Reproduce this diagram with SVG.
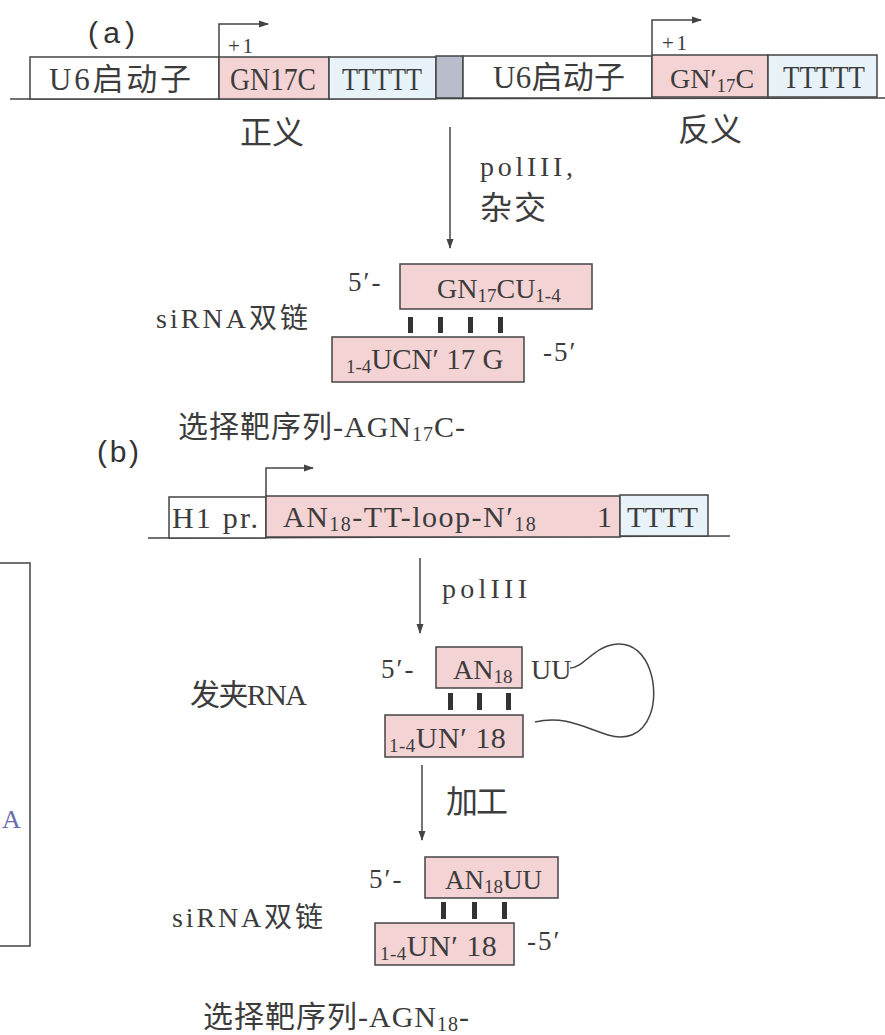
<svg xmlns="http://www.w3.org/2000/svg" width="885" height="1035" viewBox="0 0 885 1035">
<style>
.bx{stroke:#444;stroke-width:1.5}
.pk{fill:#f4d3d5}
.bl{fill:#e7f2f9}
.gy{fill:#b8bccb}
.wh{fill:#fff}
.ln{stroke:#444;stroke-width:1.5;fill:none}
.t{font-family:"Liberation Serif","Noto Sans CJK SC",serif;fill:#3c3c3c}
.s{font-family:"Liberation Sans","Noto Sans CJK SC",sans-serif;fill:#333}
.bar{fill:#333}
.p{font-size:27px;letter-spacing:2px}
</style>
<defs>
<marker id="ah" viewBox="0 0 10 10" refX="9" refY="5" markerWidth="10" markerHeight="10" markerUnits="userSpaceOnUse" orient="auto">
<path d="M0,1.5 L10,5 L0,8.5 Z" fill="#444"/>
</marker>
</defs>
<rect width="885" height="1035" fill="#fff"/>

<g id="label-a"><text class="s" x="88" y="43" font-size="30" textLength="47">(a)</text></g>

<g id="construct-a">
<line class="ln" x1="10" y1="99" x2="885" y2="98"/>
<rect class="bx wh" x="30" y="57" width="189" height="42"/>
<rect class="bx pk" x="219" y="57" width="110" height="42"/>
<rect class="bx bl" x="329" y="57" width="107" height="42"/>
<rect class="bx gy" x="436" y="56" width="27" height="42"/>
<rect class="bx wh" x="463" y="56" width="189" height="42"/>
<rect class="bx pk" x="652" y="55" width="116" height="42"/>
<rect class="bx bl" x="768" y="55" width="109" height="42"/>
<text class="t" x="49" y="90" font-size="31" textLength="142">U6启动子</text>
<text class="t" x="230" y="90" font-size="31" textLength="86" lengthAdjust="spacingAndGlyphs">GN17C</text>
<text class="t" x="342" y="90" font-size="31" textLength="80" lengthAdjust="spacingAndGlyphs">TTTTT</text>
<text class="t" x="493" y="88" font-size="31" textLength="132">U6启动子</text>
<text class="t" x="670" y="88" font-size="28">GN′<tspan font-size="19" dy="4">17</tspan><tspan dy="-4">C</tspan></text>
<text class="t" x="783" y="88" font-size="31" textLength="82" lengthAdjust="spacingAndGlyphs">TTTTT</text>
<text class="t" x="228" y="53" font-size="21" textLength="25">+1</text>
<text class="t" x="662" y="50" font-size="21" textLength="25">+1</text>
<text class="t" x="240" y="144" font-size="32" textLength="64">正义</text>
<text class="t" x="678" y="141" font-size="32" textLength="64">反义</text>
</g>

<g id="sirna-a">
<text class="t p" x="348" y="291">5′-</text>
<rect class="bx pk" x="400" y="264" width="192" height="45"/>
<text class="t" x="437" y="298" font-size="28">GN<tspan font-size="19" dy="4">17</tspan><tspan dy="-4">CU</tspan><tspan font-size="19" dy="4">1-4</tspan></text>
<rect class="bar" x="408" y="317" width="5" height="16"/>
<rect class="bar" x="438" y="317" width="5" height="16"/>
<rect class="bar" x="468" y="317" width="5" height="16"/>
<rect class="bar" x="498" y="317" width="5" height="16"/>
<rect class="bx pk" x="332" y="337" width="192" height="45"/>
<text class="t" x="346" y="369" font-size="29"><tspan font-size="19" dy="4">1-4</tspan><tspan dy="-4">UCN′ 17 G</tspan></text>
<text class="t p" x="543" y="361">-5′</text>
<text class="t" x="156" y="328" font-size="28" textLength="152">siRNA双链</text>
<text class="t" x="178" y="437" font-size="30" letter-spacing="1">选择靶序列-AGN<tspan font-size="20" dy="4">17</tspan><tspan dy="-4">C-</tspan></text>
</g>

<g id="label-b"><text class="s" x="97" y="462" font-size="30" textLength="42">(b)</text></g>

<g id="construct-b">
<line class="ln" x1="148" y1="538" x2="730" y2="536"/>
<rect class="bx wh" x="169" y="497" width="97" height="41"/>
<rect class="bx pk" x="266" y="496" width="354" height="41"/>
<rect class="bx bl" x="620" y="495" width="88" height="41"/>
<text class="t" x="172" y="528" font-size="30" textLength="86">H1 pr.</text>
<text class="t" x="283" y="527" font-size="30" letter-spacing="1.5">AN<tspan font-size="20" dy="4">18</tspan><tspan dy="-4">-TT-loop-N′</tspan><tspan font-size="20" dy="4">18</tspan></text>
<text class="t" x="597" y="527" font-size="30">1</text>
<text class="t" x="627" y="527" font-size="30" textLength="71" lengthAdjust="spacingAndGlyphs">TTTT</text>
</g>

<g id="hairpin">
<text class="t p" x="381" y="678">5′-</text>
<rect class="bx pk" x="436" y="647" width="86" height="41"/>
<text class="t" x="453" y="679" font-size="28">AN<tspan font-size="19" dy="4">18</tspan></text>
<text class="t" x="531" y="679" font-size="28">UU</text>
<path class="ln" d="M570,668 C584,668 594,645 618,644 C650,643 660,690 650,715 C642,736 625,740 608,735 C585,728 565,715 535,722" stroke-width="2"/>
<rect class="bar" x="448" y="693" width="5" height="17"/>
<rect class="bar" x="477" y="693" width="5" height="17"/>
<rect class="bar" x="506" y="693" width="5" height="17"/>
<rect class="bx pk" x="385" y="715" width="138" height="42"/>
<text class="t" x="389" y="748" font-size="30" letter-spacing="0.5"><tspan font-size="19" dy="4">1-4</tspan><tspan dy="-4">UN′ 18</tspan></text>
<text class="t" x="190" y="705" font-size="30" textLength="117">发夹RNA</text>
</g>

<g id="sirna-b">
<text class="t p" x="369" y="888">5′-</text>
<rect class="bx pk" x="425" y="857" width="133" height="41"/>
<text class="t" x="445" y="889" font-size="27">AN<tspan font-size="19" dy="4">18</tspan><tspan dy="-4">UU</tspan></text>
<rect class="bar" x="441" y="902" width="5" height="17"/>
<rect class="bar" x="472" y="902" width="5" height="17"/>
<rect class="bar" x="502" y="902" width="5" height="17"/>
<rect class="bx pk" x="375" y="923" width="139" height="42"/>
<text class="t" x="380" y="956" font-size="30" letter-spacing="0.5"><tspan font-size="19" dy="4">1-4</tspan><tspan dy="-4">UN′ 18</tspan></text>
<text class="t p" x="527" y="950">-5′</text>
<text class="t" x="172" y="927" font-size="28" textLength="151">siRNA双链</text>
<text class="t" x="203" y="1027" font-size="30" letter-spacing="1">选择靶序列-AGN<tspan font-size="20" dy="4">18</tspan><tspan dy="-4">-</tspan></text>
</g>

<g id="side-box">
<path class="ln" d="M-2,563 L30,563 L30,946 L-2,946"/>
<text x="2" y="828" font-size="26" font-family="Liberation Serif, serif" fill="#6c6ca8">A</text>
</g>

<g id="connectors">
<path class="ln" d="M219,57 L219,24 L268,24" marker-end="url(#ah)"/>
<path class="ln" d="M652,55 L652,20 L701,20" marker-end="url(#ah)"/>
<path class="ln" d="M266,496 L266,468 L313,468" marker-end="url(#ah)"/>
<line class="ln" x1="450" y1="127" x2="450" y2="248" marker-end="url(#ah)"/>
<text class="t" x="480" y="176" font-size="28" textLength="93">polIII,</text>
<text class="t" x="480" y="219" font-size="32" textLength="66">杂交</text>
<line class="ln" x1="420" y1="558" x2="420" y2="633" marker-end="url(#ah)"/>
<text class="t" x="442" y="598" font-size="28" textLength="85">polIII</text>
<line class="ln" x1="422" y1="765" x2="422" y2="840" marker-end="url(#ah)"/>
<text class="t" x="446" y="813" font-size="32" textLength="62">加工</text>
</g>
</svg>
